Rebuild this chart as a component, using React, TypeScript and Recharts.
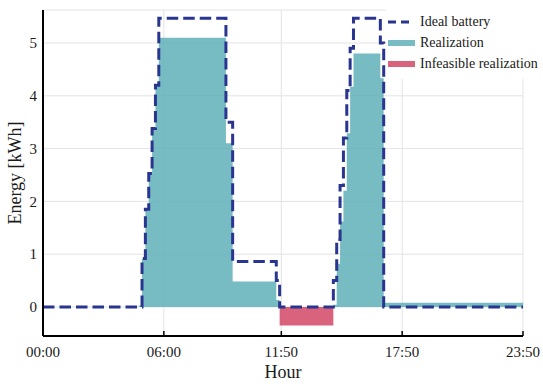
import { Area, CartesianGrid, ComposedChart, Line, XAxis, YAxis } from "recharts";

// one value every 10 minutes, 00:00 .. 23:50 (144 slots)
const idealBattery = [
  0, 0, 0, 0, 0, 0, 0, 0, 0, 0, 0, 0,
  0, 0, 0, 0, 0, 0, 0, 0, 0, 0, 0, 0,
  0, 0, 0, 0, 0, 0, 0.92, 1.85, 2.53, 3.38, 4.2, 5.47,
  5.47, 5.47, 5.47, 5.47, 5.47, 5.47, 5.47, 5.47, 5.47, 5.47, 5.47, 5.47,
  5.47, 5.47, 5.47, 5.47, 5.47, 5.47, 5.47, 3.5, 3.5, 0.86, 0.86, 0.86,
  0.86, 0.86, 0.86, 0.86, 0.86, 0.86, 0.86, 0.86, 0.86, 0.86, 0.5, 0,
  0, 0, 0, 0, 0, 0, 0, 0, 0, 0, 0, 0,
  0, 0, 0, 0.5, 1.28, 2.3, 3.2, 4.1, 4.9, 5.47, 5.47, 5.47,
  5.47, 5.47, 5.47, 5.47, 5.47, 5.0, 0, 0, 0, 0, 0, 0,
  0, 0, 0, 0, 0, 0, 0, 0, 0, 0, 0, 0,
  0, 0, 0, 0, 0, 0, 0, 0, 0, 0, 0, 0,
  0, 0, 0, 0, 0, 0, 0, 0, 0, 0, 0, 0,
];

const realization = [
  0, 0, 0, 0, 0, 0, 0, 0, 0, 0, 0, 0,
  0, 0, 0, 0, 0, 0, 0, 0, 0, 0, 0, 0,
  0, 0, 0, 0, 0, 0.03, 0.92, 1.85, 2.53, 3.38, 4.2, 5.1,
  5.1, 5.1, 5.1, 5.1, 5.1, 5.1, 5.1, 5.1, 5.1, 5.1, 5.1, 5.1,
  5.1, 5.1, 5.1, 5.1, 5.1, 5.1, 5.1, 3.1, 3.1, 0.48, 0.48, 0.48,
  0.48, 0.48, 0.48, 0.48, 0.48, 0.48, 0.48, 0.48, 0.48, 0.48, 0.13, 0,
  0, 0, 0, 0, 0, 0, 0, 0, 0, 0, 0, 0,
  0, 0, 0, 0.04, 0.82, 1.62, 2.2, 3.29, 4.17, 4.8, 4.8, 4.8,
  4.8, 4.8, 4.8, 4.8, 4.8, 4.33, 0.08, 0.08, 0.08, 0.08, 0.08, 0.08,
  0.08, 0.08, 0.08, 0.08, 0.08, 0.08, 0.08, 0.08, 0.08, 0.08, 0.08, 0.08,
  0.08, 0.08, 0.08, 0.08, 0.08, 0.08, 0.08, 0.08, 0.08, 0.08, 0.08, 0.08,
  0.08, 0.08, 0.08, 0.08, 0.08, 0.08, 0.08, 0.08, 0.08, 0.08, 0.08, 0.08,
];

const infeasible = [
  0, 0, 0, 0, 0, 0, 0, 0, 0, 0, 0, 0,
  0, 0, 0, 0, 0, 0, 0, 0, 0, 0, 0, 0,
  0, 0, 0, 0, 0, 0, 0, 0, 0, 0, 0, 0,
  0, 0, 0, 0, 0, 0, 0, 0, 0, 0, 0, 0,
  0, 0, 0, 0, 0, 0, 0, 0, 0, 0, 0, 0,
  0, 0, 0, 0, 0, 0, 0, 0, 0, 0, 0, -0.35,
  -0.35, -0.35, -0.35, -0.35, -0.35, -0.35, -0.35, -0.35, -0.35, -0.35, -0.35, -0.35,
  -0.35, -0.35, -0.35, 0, 0, 0, 0, 0, 0, 0, 0, 0,
  0, 0, 0, 0, 0, 0, 0, 0, 0, 0, 0, 0,
  0, 0, 0, 0, 0, 0, 0, 0, 0, 0, 0, 0,
  0, 0, 0, 0, 0, 0, 0, 0, 0, 0, 0, 0,
  0, 0, 0, 0, 0, 0, 0, 0, 0, 0, 0, 0,
];

const xTicks = [0, 36, 71, 107, 143];
const xTickLabels = ["00:00", "06:00", "11:50", "17:50", "23:50"];
const yTicks = [0, 1, 2, 3, 4, 5];

const data = realization.map((r, i) => ({
  slot: i,
  ideal: idealBattery[i],
  real: r,
  infeasible: infeasible[i],
}));

const FONT = "'Liberation Serif', 'Times New Roman', serif";
const TEXT = "#1a1a1a";
const IDEAL = "#29358f";
const TEAL = "#5fb0b7";
const RED = "#d24866";

const XTick = (props: any) => {
  const { x, y, payload } = props;
  const idx = xTicks.indexOf(payload.value);
  return (
    <g>
      <line x1={x} x2={x} y1={y} y2={y - 5} stroke="#000" strokeWidth={1.5} />
      <text x={x} y={y + 21} textAnchor="middle" fill={TEXT} fontSize={15} fontFamily={FONT}>
        {xTickLabels[idx]}
      </text>
    </g>
  );
};

const legendItems = [
  { name: "Ideal battery", kind: "dash", color: IDEAL },
  { name: "Realization", kind: "fill", color: TEAL },
  { name: "Infeasible realization", kind: "fill", color: RED },
];

function ChartLegend() {
  return (
    <div
      style={{
        position: "absolute",
        left: 386,
        top: 8,
        width: 157,
        height: 71,
        background: "#fff",
        fontFamily: FONT,
        fontSize: 14,
        color: TEXT,
      }}
    >
      {legendItems.map((it, k) => (
        <div
          key={it.name}
          style={{ position: "absolute", left: 0, top: 4 + k * 21, height: 20, display: "flex", alignItems: "center" }}
        >
          <svg width={30} height={20} style={{ display: "block" }}>
            {it.kind === "dash" ? (
              <line x1={2} x2={28} y1={10} y2={10} stroke={it.color} strokeWidth={3} strokeDasharray="8 5" />
            ) : (
              <line x1={2} x2={29} y1={10} y2={10} stroke={it.color} strokeOpacity={0.85} strokeWidth={6} />
            )}
          </svg>
          <span style={{ marginLeft: 4, whiteSpace: "nowrap" }}>{it.name}</span>
        </div>
      ))}
    </div>
  );
}

export default function App() {
  return (
    <div style={{ position: "fixed", left: 0, top: 0, width: 543, height: 386, background: "#fff" }}>
      <ComposedChart width={543} height={386} data={data} margin={{ top: 10, right: 20, bottom: 0, left: 0 }}>
        <CartesianGrid stroke="#e3e3e3" strokeWidth={1} />
        <XAxis
          dataKey="slot"
          type="number"
          domain={[0, 143]}
          ticks={xTicks}
          interval={0}
          height={50}
          tickSize={0}
          tickMargin={0}
          tick={<XTick />}
          axisLine={{ stroke: "#000", strokeWidth: 2 }}
          label={{
            content: () => (
              <text x={283} y={378} textAnchor="middle" fill={TEXT} fontSize={18} fontFamily={FONT}>
                Hour
              </text>
            ),
          }}
        />
        <YAxis
          type="number"
          domain={[-0.55, 5.625]}
          allowDataOverflow
          ticks={yTicks}
          width={43}
          tickSize={0}
          tickMargin={6}
          tickLine={false}
          axisLine={{ stroke: "#000", strokeWidth: 2 }}
          tick={{ fill: TEXT, fontSize: 15, fontFamily: FONT }}
          label={{
            content: () => (
              <text
                x={15}
                y={173}
                transform="rotate(-90 15 173)"
                textAnchor="middle"
                dominantBaseline="central"
                fill={TEXT}
                fontSize={18}
                fontFamily={FONT}
              >
                Energy [kWh]
              </text>
            ),
          }}
        />
        <Area
          type="step"
          dataKey="real"
          baseValue={0}
          stroke="none"
          fill={TEAL}
          fillOpacity={0.85}
          isAnimationActive={false}
        />
        <Area
          type="step"
          dataKey="infeasible"
          baseValue={0}
          stroke="none"
          fill={RED}
          fillOpacity={0.85}
          isAnimationActive={false}
        />
        <Line
          type="step"
          dataKey="ideal"
          stroke={IDEAL}
          strokeWidth={3}
          strokeDasharray="11.5 5"
          dot={false}
          activeDot={false}
          isAnimationActive={false}
        />
      </ComposedChart>
      <ChartLegend />
    </div>
  );
}
